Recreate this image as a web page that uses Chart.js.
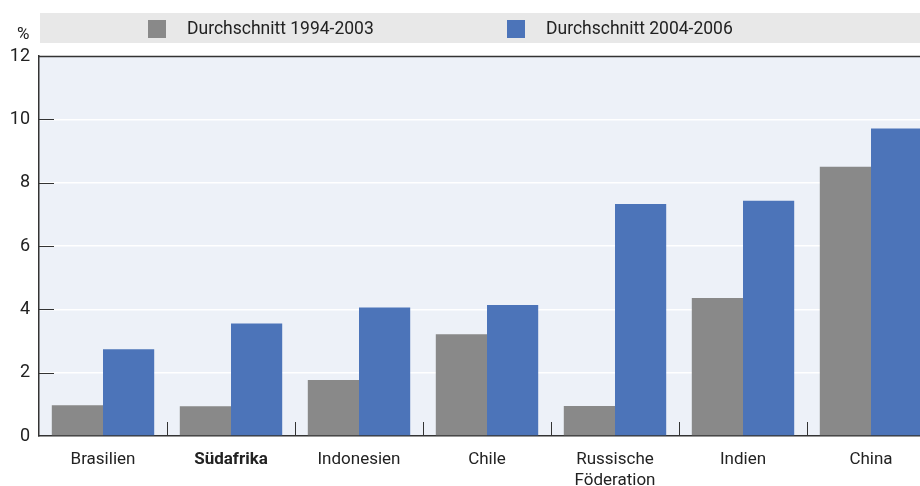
<!DOCTYPE html>
<html>
<head>
<meta charset="utf-8">
<script src="https://cdn.jsdelivr.net/npm/chart.js@4"></script>
<style>
  body { margin: 0; overflow: hidden; background: #fff; font-family: "Liberation Sans Narrow", Roboto, sans-serif; }
  #wrap { position: relative; width: 936px; height: 486px; }
  #legend { position: absolute; left: 40px; top: 13px; width: 880px; height: 30px; background: #e8e8e8; }
  .item { position: absolute; top: 0; height: 30px; line-height: 30px; font-size: 17.5px; color: #222; }
  .box { position: absolute; top: 7px; width: 18px; height: 18px; }
  #unit { position: absolute; left: 17px; top: 23px; font-size: 17px; color: #222; }
</style>
</head>
<body>
<div id="wrap">
  <div id="legend">
    <div class="box" style="left:108px;background:#898989"></div>
    <div class="item" style="left:147px">Durchschnitt 1994-2003</div>
    <div class="box" style="left:467px;background:#4c74b9"></div>
    <div class="item" style="left:506px">Durchschnitt 2004-2006</div>
  </div>
  <div id="unit">%</div>
  <canvas id="chart" width="936" height="486"></canvas>
</div>
<script>
const categories = ["Brasilien", "Südafrika", "Indonesien", "Chile", ["Russische", "Föderation"], "Indien", "China"];
const avg1994_2003 = [0.97, 0.94, 1.77, 3.21, 0.95, 4.36, 8.50];
const avg2004_2006 = [2.74, 3.55, 4.06, 4.14, 7.33, 7.43, 9.71];
const yTicks = [0, 2, 4, 6, 8, 10, 12];

const FONT = "'Liberation Sans Narrow', Roboto, sans-serif";

// hintergrund, obere linie, kleine striche innen
const decor = {
  id: "decor",
  beforeDraw(chart) {
    const { ctx, chartArea: a } = chart;
    ctx.save();
    ctx.fillStyle = "#edf1f8";
    ctx.fillRect(a.left, a.top, a.right - a.left, a.bottom - a.top);
    ctx.restore();
  },
  afterDatasetsDraw(chart) {
    const { ctx, chartArea: a, scales } = chart;
    ctx.save();
    ctx.strokeStyle = "#333";
    ctx.lineWidth = 1.5;
    ctx.beginPath();
    ctx.moveTo(a.left, a.top + 0.5);
    ctx.lineTo(a.right, a.top + 0.5);
    ctx.stroke();
    ctx.lineWidth = 1;
    yTicks.forEach(v => {
      if (v === 0 || v === 12) return;
      const y = Math.round(scales.y.getPixelForValue(v)) + 0.5;
      ctx.beginPath();
      ctx.moveTo(a.left, y);
      ctx.lineTo(a.left + 15, y);
      ctx.stroke();
    });
    for (let i = 1; i < categories.length; i++) {
      const x = Math.round((scales.x.getPixelForTick(i - 1) + scales.x.getPixelForTick(i)) / 2) + 0.5;
      ctx.beginPath();
      ctx.moveTo(x, a.bottom);
      ctx.lineTo(x, a.bottom - 14);
      ctx.stroke();
    }
    ctx.restore();
  }
};

new Chart(document.getElementById("chart"), {
  type: "bar",
  data: {
    labels: categories,
    datasets: [
      { label: "Durchschnitt 1994-2003", data: avg1994_2003, backgroundColor: "#898989" },
      { label: "Durchschnitt 2004-2006", data: avg2004_2006, backgroundColor: "#4c74b9" }
    ]
  },
  options: {
    responsive: false,
    animation: false,
    layout: { padding: { top: 56, right: 1, left: 0, bottom: 0 } },
    datasets: { bar: { categoryPercentage: 0.8, barPercentage: 1 } },
    plugins: { legend: { display: false }, tooltip: { enabled: false } },
    scales: {
      x: {
        grid: { display: false },
        border: { color: "#333", width: 1.5 },
        ticks: {
          color: "#222",
          padding: 6,
          maxRotation: 0,
          font: c => ({ family: FONT, size: 17, weight: c.index === 1 ? "bold" : "normal", lineHeight: 1.2 })
        },
        afterFit: s => { s.height = 50; }
      },
      y: {
        min: 0,
        max: 12,
        afterBuildTicks: s => { s.ticks = yTicks.map(v => ({ value: v })); },
        grid: { color: "#ffffff", lineWidth: 1.5, drawTicks: false },
        border: { color: "#333", width: 1.5 },
        ticks: { color: "#222", padding: 9, font: { family: FONT, size: 18 } },
        afterFit: s => { s.width = 39; }
      }
    }
  },
  plugins: [decor]
});
</script>
</body>
</html>
